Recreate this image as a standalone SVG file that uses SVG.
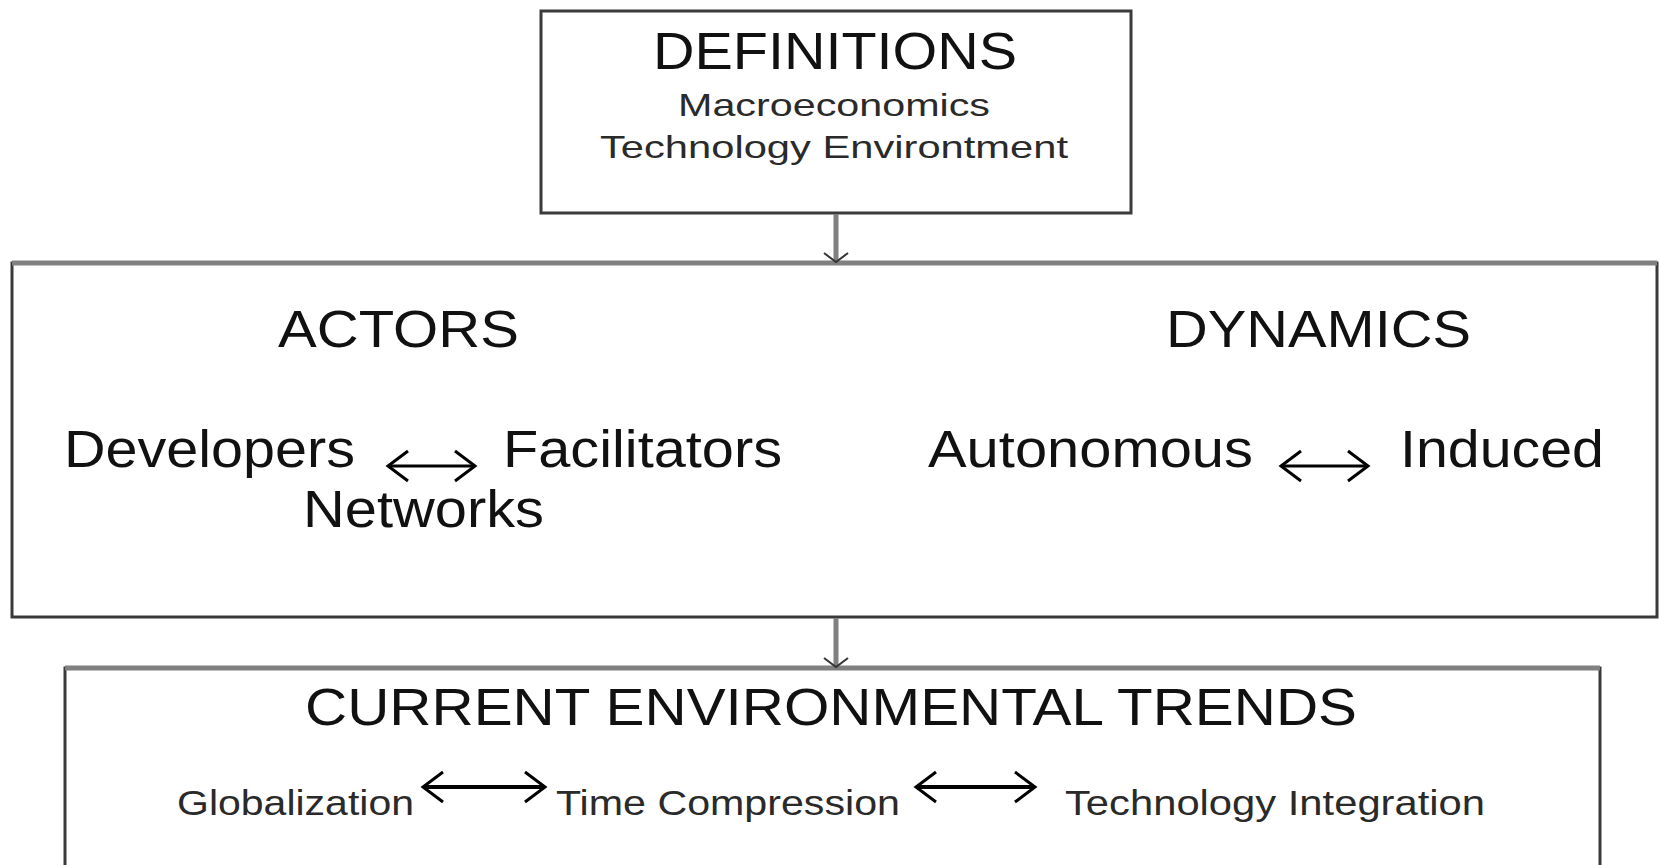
<svg xmlns="http://www.w3.org/2000/svg" width="1659" height="865" viewBox="0 0 1659 865">
<style>
  .box { fill: #ffffff; stroke: #3a3a3a; stroke-width: 3; }
  .topedge { stroke: #808080; stroke-width: 5; fill: none; }
  .big { font-family: "Liberation Sans", Arial, sans-serif; font-size: 51px; fill: #111111; }
  .mid { font-family: "Liberation Sans", Arial, sans-serif; font-size: 32px; fill: #2a2a2a; }
  .small { font-family: "Liberation Sans", Arial, sans-serif; font-size: 35px; fill: #2a2a2a; }
  .flow { stroke: #808080; stroke-width: 5; fill: none; }
  .dbl { stroke: #000000; stroke-width: 3; fill: none; }
  .dbl2 { stroke: #000000; stroke-width: 4; fill: none; }
</style>
<defs>
  <marker id="chev" markerUnits="userSpaceOnUse" viewBox="-22 -18 26 36" refX="0" refY="0" markerWidth="26" markerHeight="36" orient="auto-start-reverse" overflow="visible">
    <path d="M-20,-15 L0,0 L-20,15" fill="none" stroke="#000000" stroke-width="3"/>
  </marker>
  <marker id="down" markerUnits="userSpaceOnUse" viewBox="-12 -14 14 28" refX="0" refY="0" markerWidth="14" markerHeight="28" orient="auto" overflow="visible">
    <path d="M-9,-12 L0,0 L-9,12" fill="none" stroke="#333333" stroke-width="2"/>
  </marker>
</defs>
<rect width="1659" height="865" fill="#ffffff"/>

<g id="definitions">
  <rect class="box" x="541" y="11" width="590" height="202"/>
  <text class="big" x="653" y="68.5" textLength="364" lengthAdjust="spacingAndGlyphs">DEFINITIONS</text>
  <text class="mid" x="678" y="116" textLength="312" lengthAdjust="spacingAndGlyphs">Macroeconomics</text>
  <text class="mid" x="600" y="157.5" textLength="468" lengthAdjust="spacingAndGlyphs">Technology Environtment</text>
</g>

<g id="actors-dynamics">
  <rect class="box" x="12" y="263" width="1645" height="354"/>
  <line class="topedge" x1="12" y1="263" x2="1657" y2="263"/>
  <text class="big" x="278" y="347" textLength="241" lengthAdjust="spacingAndGlyphs">ACTORS</text>
  <text class="big" x="1166" y="347" textLength="305" lengthAdjust="spacingAndGlyphs">DYNAMICS</text>
  <text class="big" x="64" y="466.5" textLength="291" lengthAdjust="spacingAndGlyphs">Developers</text>
  <text class="big" x="503" y="466.5" textLength="279" lengthAdjust="spacingAndGlyphs">Facilitators</text>
  <text class="big" x="303" y="526.5" textLength="241" lengthAdjust="spacingAndGlyphs">Networks</text>
  <text class="big" x="928" y="466.5" textLength="325" lengthAdjust="spacingAndGlyphs">Autonomous</text>
  <text class="big" x="1400" y="466.5" textLength="204" lengthAdjust="spacingAndGlyphs">Induced</text>
</g>

<g id="trends">
  <rect class="box" x="65" y="668" width="1535" height="230"/>
  <line class="topedge" x1="65" y1="668" x2="1600" y2="668"/>
  <text class="big" x="305" y="725" textLength="1052" lengthAdjust="spacingAndGlyphs">CURRENT ENVIRONMENTAL TRENDS</text>
  <text class="small" x="177" y="815" textLength="237" lengthAdjust="spacingAndGlyphs">Globalization</text>
  <text class="small" x="556" y="815" textLength="344" lengthAdjust="spacingAndGlyphs">Time Compression</text>
  <text class="small" x="1065" y="815" textLength="420" lengthAdjust="spacingAndGlyphs">Technology Integration</text>
</g>

<g id="connectors">
  <line class="flow" x1="836" y1="214" x2="836" y2="262" marker-end="url(#down)"/>
  <line class="flow" x1="836" y1="618" x2="836" y2="667" marker-end="url(#down)"/>
  <line class="dbl" x1="388" y1="466" x2="475" y2="466" marker-start="url(#chev)" marker-end="url(#chev)"/>
  <line class="dbl" x1="1281" y1="466" x2="1368" y2="466" marker-start="url(#chev)" marker-end="url(#chev)"/>
  <line class="dbl2" x1="423" y1="787" x2="545" y2="787" marker-start="url(#chev)" marker-end="url(#chev)"/>
  <line class="dbl2" x1="916" y1="787" x2="1035" y2="787" marker-start="url(#chev)" marker-end="url(#chev)"/>
</g>
</svg>
